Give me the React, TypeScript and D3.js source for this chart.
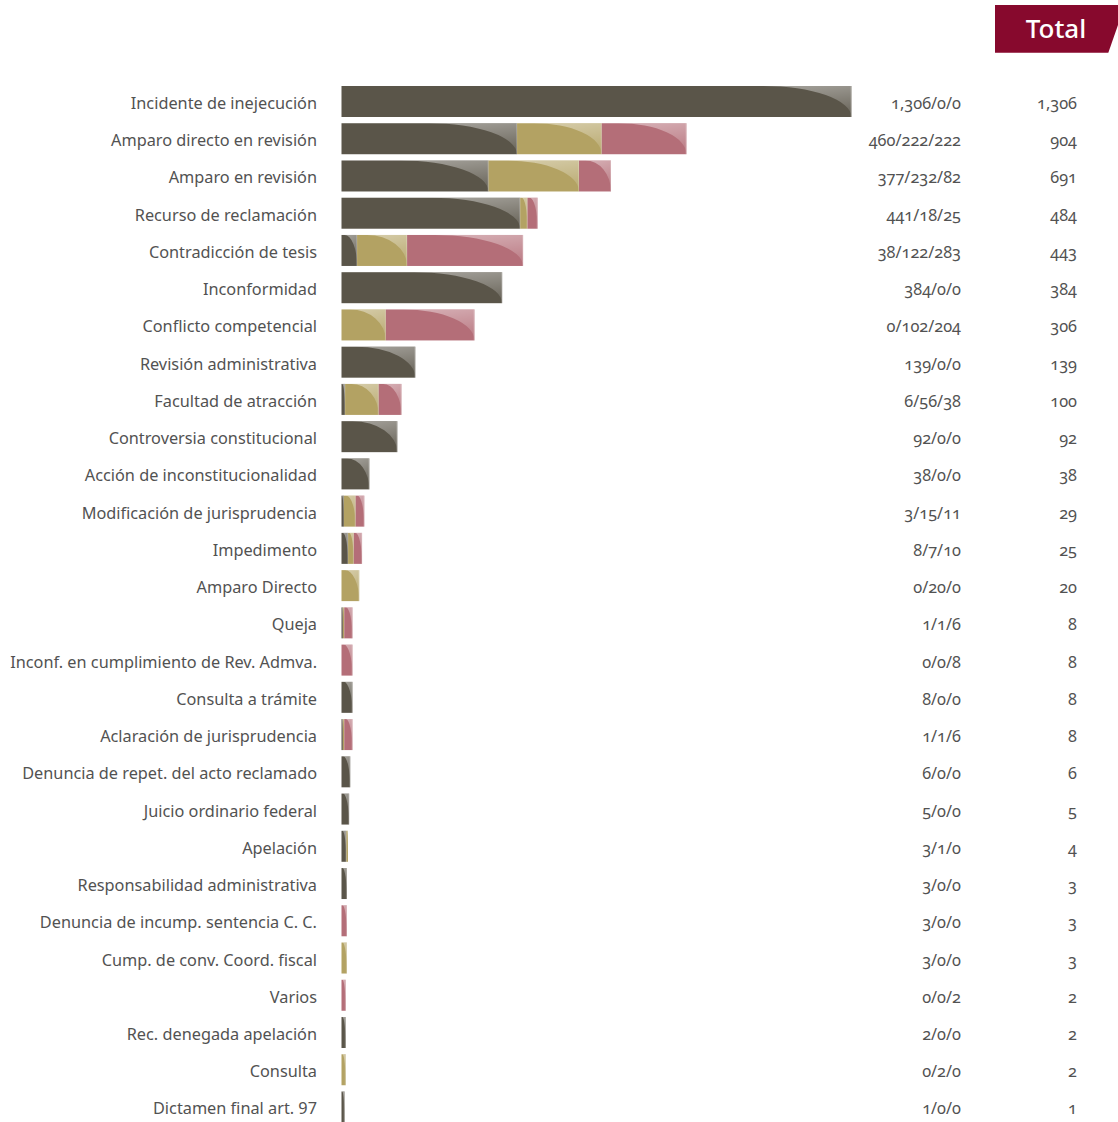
import React from "react";
import * as d3 from "d3";

const categories = [
  "Incidente de inejecución",
  "Amparo directo en revisión",
  "Amparo en revisión",
  "Recurso de reclamación",
  "Contradicción de tesis",
  "Inconformidad",
  "Conflicto competencial",
  "Revisión administrativa",
  "Facultad de atracción",
  "Controversia constitucional",
  "Acción de inconstitucionalidad",
  "Modificación de jurisprudencia",
  "Impedimento",
  "Amparo Directo",
  "Queja",
  "Inconf. en cumplimiento de Rev. Admva.",
  "Consulta a trámite",
  "Aclaración de jurisprudencia",
  "Denuncia de repet. del acto reclamado",
  "Juicio ordinario federal",
  "Apelación",
  "Responsabilidad administrativa",
  "Denuncia de incump. sentencia C. C.",
  "Cump. de conv. Coord. fiscal",
  "Varios",
  "Rec. denegada apelación",
  "Consulta",
  "Dictamen final art. 97",
];

// segment values as drawn (dark / gold / rose)
const darkValues = [1306, 460, 377, 441, 38, 384, 0, 139, 6, 92, 38, 3, 8, 0, 1, 0, 8, 1, 6, 5, 3, 3, 0, 0, 0, 2, 0, 1];
const goldValues = [0, 222, 232, 18, 122, 0, 102, 0, 56, 0, 0, 15, 7, 20, 1, 0, 0, 1, 0, 0, 1, 0, 0, 3, 0, 0, 2, 0];
const roseValues = [0, 222, 82, 25, 283, 0, 204, 0, 38, 0, 0, 11, 10, 0, 6, 8, 0, 6, 0, 0, 0, 0, 3, 0, 2, 0, 0, 0];

// breakdown text as printed in the chart
const breakdownLabels = [
  "1,306/0/0", "460/222/222", "377/232/82", "441/18/25", "38/122/283", "384/0/0",
  "0/102/204", "139/0/0", "6/56/38", "92/0/0", "38/0/0", "3/15/11", "8/7/10",
  "0/20/0", "1/1/6", "0/0/8", "8/0/0", "1/1/6", "6/0/0", "5/0/0", "3/1/0",
  "3/0/0", "3/0/0", "3/0/0", "0/0/2", "2/0/0", "0/2/0", "1/0/0",
];

const seriesColors = ["#5a5549", "#b3a263", "#b46e78"];
const headerLabel = "Total";

const FONT = "'Noto Sans', 'Open Sans', sans-serif";
const TEXT = "#525252";

export default function App() {
  const W = 1118;
  const H = 1122;
  const n = categories.length;
  const step = 37.24;
  const barTop = 86;
  const pad = 0.1676;
  const y = d3
    .scaleBand<string>()
    .domain(categories)
    .range([barTop - (pad / 2) * step, barTop - (pad / 2) * step + n * step])
    .paddingInner(pad)
    .paddingOuter(pad / 2);

  const x0 = 341.5;
  const widthScale = d3
    .scaleLinear()
    .domain([0, 8, 40, 100, 904, 1306])
    .range([2, 11, 29, 60, 345, 510]);
  const fmt = d3.format(",");

  const rows = categories.map((c, i) => {
    const vals = [darkValues[i], goldValues[i], roseValues[i]];
    const total = d3.sum(vals);
    const w = widthScale(total);
    const segs: { x: number; w: number; k: number }[] = [];
    let acc = 0;
    vals.forEach((v, k) => {
      if (v > 0) {
        const sx = x0 + (acc / total) * w;
        const sw = (v / total) * w;
        segs.push({ x: sx, w: sw, k });
      }
      acc += v;
    });
    return { c, i, total, segs };
  });

  const bh = y.bandwidth();

  return (
    <svg
      width={W}
      height={H}
      style={{ position: "absolute", left: 0, top: 0, background: "#fff" }}
      fontFamily={FONT}
    >
      <defs>
        <linearGradient id="gloss" x1="0" y1="0" x2="0.3" y2="1">
          <stop offset="0" stopColor="#fff" stopOpacity={0.46} />
          <stop offset="1" stopColor="#fff" stopOpacity={0.13} />
        </linearGradient>
      </defs>

      {/* header badge */}
      <polygon points="995,5 1118,5 1118,25 1108.3,52.7 995,52.7" fill="#87092d" />
      <text
        x={1056}
        y={38}
        textAnchor="middle"
        fill="#fff"
        fontSize={26}
        fontWeight={500}
      >
        {headerLabel}
      </text>

      {rows.map((r) => {
        const by = y(r.c)!;
        const cy = by + bh / 2 + 1.5;
        return (
          <g key={r.c}>
            <text
              x={317}
              y={cy}
              textAnchor="end"
              dominantBaseline="central"
              fontSize={16.3}
              fill={TEXT}
            >
              {r.c}
            </text>
            {r.segs.map((s) => {
              const hw = Math.min(0.8 * s.w, 88);
              const right = s.x + s.w;
              const d = `M${right - hw},${by} A${hw},${bh} 0 0 1 ${right},${by + bh} L${right},${by} Z`;
              return (
                <g key={s.k}>
                  <rect x={s.x} y={by} width={s.w} height={bh} fill={seriesColors[s.k]} />
                  <path d={d} fill="url(#gloss)" />
                  {s.w > 3 && (
                    <rect x={right - 1} y={by} width={1} height={bh} fill="#fff" opacity={0.2} />
                  )}
                </g>
              );
            })}
            <text
              x={961}
              y={cy}
              textAnchor="end"
              dominantBaseline="central"
              fontSize={16.3}
              fill={TEXT}
              style={{ fontVariantNumeric: "oldstyle-nums" }}
            >
              {breakdownLabels[r.i]}
            </text>
            <text
              x={1077}
              y={cy}
              textAnchor="end"
              dominantBaseline="central"
              fontSize={16.3}
              fill={TEXT}
              style={{ fontVariantNumeric: "oldstyle-nums" }}
            >
              {fmt(r.total)}
            </text>
          </g>
        );
      })}
    </svg>
  );
}
